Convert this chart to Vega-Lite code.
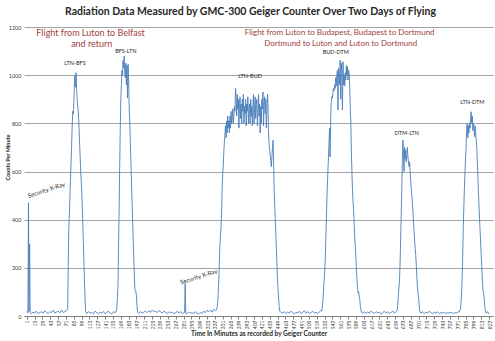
{
  "$schema": "https://vega.github.io/schema/vega-lite/v6.json",
  "width": 469,
  "height": 289,
  "autosize": {"type": "none"},
  "padding": {"left": 24, "top": 27, "right": 2, "bottom": 25},
  "background": "white",
  "config": {"view": {"stroke": null}, "font": "Lato"},
  "title": {
    "text": "Radiation Data Measured by GMC-300 Geiger Counter Over Two Days of Flying",
    "font": "Lato", "fontSize": 10.5, "fontWeight": "bold", "color": "#262626",
    "anchor": "middle", "offset": 8, "dx": -8
  },
  "datasets": {
    "series": [
      {"t":1,"c":20},{"t":2,"c":15},{"t":3,"c":12},{"t":4,"c":470},{"t":5,"c":18},{"t":6,"c":300},{"t":7,"c":14},{"t":9,"c":10},{"t":12,"c":16},{"t":15,"c":12},{"t":18,"c":20},{"t":21,"c":10},{"t":24,"c":14},{"t":27,"c":18},{"t":30,"c":12},{"t":33,"c":22},{"t":36,"c":15},{"t":39,"c":10},{"t":42,"c":18},{"t":45,"c":14},{"t":48,"c":24},{"t":51,"c":12},{"t":54,"c":16},{"t":57,"c":20},{"t":60,"c":13},{"t":63,"c":25},{"t":66,"c":15},{"t":69,"c":18},{"t":72,"c":22},{"t":74,"c":30},
      {"t":75,"c":200},{"t":76,"c":360},{"t":77,"c":420},{"t":78,"c":490},{"t":79,"c":560},{"t":80,"c":630},{"t":81,"c":700},{"t":82,"c":780},{"t":83,"c":850},{"t":84,"c":840},{"t":85,"c":880},{"t":86,"c":960},{"t":87,"c":1000},{"t":88,"c":950},{"t":89,"c":1010},{"t":90,"c":940},{"t":91,"c":900},{"t":92,"c":870},{"t":93,"c":850},{"t":94,"c":800},{"t":95,"c":740},{"t":96,"c":680},{"t":97,"c":620},{"t":98,"c":570},{"t":99,"c":530},{"t":100,"c":460},{"t":101,"c":390},{"t":102,"c":310},{"t":103,"c":230},{"t":104,"c":150},{"t":105,"c":80},{"t":106,"c":20},
      {"t":108,"c":10},{"t":111,"c":18},{"t":114,"c":12},{"t":117,"c":15},{"t":120,"c":8},{"t":123,"c":20},{"t":126,"c":14},{"t":129,"c":10},{"t":132,"c":16},{"t":135,"c":12},{"t":138,"c":19},{"t":141,"c":9},{"t":144,"c":15},{"t":147,"c":20},{"t":150,"c":12},{"t":153,"c":8},{"t":156,"c":18},{"t":159,"c":14},{"t":161,"c":20},
      {"t":162,"c":40},{"t":163,"c":80},{"t":164,"c":130},{"t":165,"c":300},{"t":166,"c":450},{"t":167,"c":620},{"t":168,"c":780},{"t":169,"c":900},{"t":170,"c":960},{"t":171,"c":1020},{"t":172,"c":1000},{"t":173,"c":1060},{"t":174,"c":1030},{"t":175,"c":1080},{"t":176,"c":1010},{"t":177,"c":990},{"t":178,"c":1050},{"t":179,"c":960},{"t":180,"c":1040},{"t":181,"c":905},{"t":182,"c":1045},{"t":183,"c":980},{"t":184,"c":860},{"t":185,"c":800},{"t":186,"c":720},{"t":187,"c":640},{"t":188,"c":560},{"t":189,"c":480},{"t":190,"c":400},{"t":191,"c":330},{"t":192,"c":250},{"t":193,"c":180},{"t":194,"c":115},{"t":195,"c":105},{"t":196,"c":100},{"t":197,"c":80},{"t":198,"c":40},{"t":199,"c":15},
      {"t":201,"c":10},{"t":204,"c":18},{"t":207,"c":12},{"t":210,"c":16},{"t":213,"c":20},{"t":216,"c":14},{"t":219,"c":22},{"t":222,"c":15},{"t":225,"c":25},{"t":228,"c":18},{"t":231,"c":20},{"t":234,"c":14},{"t":237,"c":22},{"t":240,"c":18},{"t":243,"c":12},{"t":246,"c":20},{"t":249,"c":15},{"t":252,"c":10},{"t":255,"c":18},{"t":258,"c":12},{"t":261,"c":16},{"t":264,"c":10},{"t":267,"c":14},{"t":270,"c":20},{"t":273,"c":12},{"t":276,"c":18},{"t":279,"c":10},{"t":282,"c":14},{"t":283,"c":15},{"t":284,"c":135},{"t":285,"c":12},{"t":287,"c":10},{"t":290,"c":16},{"t":293,"c":12},{"t":296,"c":14},{"t":299,"c":10},{"t":302,"c":18},{"t":305,"c":12},{"t":308,"c":8},{"t":311,"c":15},{"t":314,"c":10},{"t":317,"c":20},{"t":320,"c":14},{"t":323,"c":24},{"t":326,"c":18},{"t":329,"c":25},{"t":332,"c":16},{"t":335,"c":28},{"t":338,"c":22},
      {"t":340,"c":25},{"t":341,"c":35},{"t":342,"c":55},{"t":343,"c":90},{"t":344,"c":150},{"t":345,"c":220},{"t":346,"c":290},{"t":347,"c":330},{"t":348,"c":370},{"t":349,"c":420},{"t":350,"c":520},{"t":351,"c":590},{"t":352,"c":620},{"t":353,"c":680},{"t":354,"c":720},{"t":355,"c":750},{"t":356,"c":790},{"t":357,"c":740},{"t":358,"c":810},{"t":359,"c":760},{"t":360,"c":830},{"t":361,"c":780},{"t":362,"c":810},{"t":363,"c":760},{"t":364,"c":830},{"t":365,"c":780},{"t":366,"c":850},{"t":367,"c":800},{"t":368,"c":820},{"t":369,"c":860},{"t":370,"c":800},{"t":371,"c":830},{"t":372,"c":870},{"t":373,"c":850},{"t":374,"c":945},{"t":375,"c":900},{"t":376,"c":830},{"t":377,"c":920},{"t":378,"c":860},{"t":379,"c":900},{"t":380,"c":780},{"t":381,"c":870},{"t":382,"c":910},{"t":383,"c":820},{"t":384,"c":880},{"t":385,"c":800},{"t":386,"c":900},{"t":387,"c":850},{"t":388,"c":920},{"t":389,"c":800},{"t":390,"c":870},{"t":391,"c":840},{"t":392,"c":900},{"t":393,"c":790},{"t":394,"c":880},{"t":395,"c":850},{"t":396,"c":910},{"t":397,"c":800},{"t":398,"c":860},{"t":399,"c":880},{"t":400,"c":800},{"t":401,"c":900},{"t":402,"c":830},{"t":403,"c":870},{"t":404,"c":790},{"t":405,"c":880},{"t":406,"c":920},{"t":407,"c":800},{"t":408,"c":860},{"t":409,"c":910},{"t":410,"c":820},{"t":411,"c":880},{"t":412,"c":900},{"t":413,"c":790},{"t":414,"c":850},{"t":415,"c":920},{"t":416,"c":830},{"t":417,"c":880},{"t":418,"c":760},{"t":419,"c":870},{"t":420,"c":800},{"t":421,"c":900},{"t":422,"c":860},{"t":423,"c":930},{"t":424,"c":790},{"t":425,"c":880},{"t":426,"c":910},{"t":427,"c":840},{"t":428,"c":900},{"t":429,"c":780},{"t":430,"c":850},{"t":431,"c":920},{"t":432,"c":880},{"t":433,"c":760},{"t":434,"c":710},{"t":435,"c":690},{"t":436,"c":670},{"t":437,"c":640},{"t":438,"c":620},{"t":439,"c":660},{"t":440,"c":700},{"t":441,"c":730},{"t":442,"c":640},{"t":443,"c":520},{"t":444,"c":460},{"t":445,"c":400},{"t":446,"c":340},{"t":447,"c":280},{"t":448,"c":210},{"t":449,"c":150},{"t":450,"c":110},{"t":451,"c":70},{"t":452,"c":40},{"t":453,"c":20},{"t":455,"c":15},
      {"t":458,"c":12},{"t":461,"c":18},{"t":464,"c":10},{"t":467,"c":16},{"t":470,"c":12},{"t":473,"c":20},{"t":476,"c":14},{"t":479,"c":8},{"t":482,"c":16},{"t":485,"c":12},{"t":488,"c":20},{"t":491,"c":10},{"t":494,"c":15},{"t":497,"c":22},{"t":500,"c":12},{"t":503,"c":18},{"t":506,"c":10},{"t":509,"c":14},{"t":512,"c":20},{"t":515,"c":12},{"t":518,"c":16},{"t":521,"c":10},{"t":524,"c":18},{"t":526,"c":22},{"t":528,"c":20},
      {"t":529,"c":40},{"t":530,"c":60},{"t":531,"c":100},{"t":532,"c":140},{"t":533,"c":170},{"t":534,"c":220},{"t":535,"c":300},{"t":536,"c":380},{"t":537,"c":460},{"t":538,"c":540},{"t":539,"c":600},{"t":540,"c":660},{"t":541,"c":720},{"t":542,"c":780},{"t":543,"c":660},{"t":544,"c":820},{"t":545,"c":890},{"t":546,"c":910},{"t":547,"c":905},{"t":548,"c":930},{"t":549,"c":945},{"t":550,"c":935},{"t":551,"c":960},{"t":552,"c":945},{"t":553,"c":990},{"t":554,"c":955},{"t":555,"c":1000},{"t":556,"c":1020},{"t":557,"c":855},{"t":558,"c":1030},{"t":559,"c":1000},{"t":560,"c":960},{"t":561,"c":1063},{"t":562,"c":900},{"t":563,"c":1050},{"t":564,"c":1010},{"t":565,"c":855},{"t":566,"c":1056},{"t":567,"c":960},{"t":568,"c":1000},{"t":569,"c":955},{"t":570,"c":1010},{"t":571,"c":980},{"t":572,"c":1040},{"t":573,"c":1000},{"t":574,"c":1035},{"t":575,"c":980},{"t":576,"c":1020},{"t":577,"c":1007},{"t":578,"c":950},{"t":579,"c":860},{"t":580,"c":800},{"t":581,"c":680},{"t":582,"c":590},{"t":583,"c":520},{"t":584,"c":470},{"t":585,"c":440},{"t":586,"c":380},{"t":587,"c":320},{"t":588,"c":290},{"t":589,"c":240},{"t":590,"c":190},{"t":591,"c":150},{"t":592,"c":110},{"t":593,"c":95},{"t":594,"c":100},{"t":595,"c":80},{"t":596,"c":70},{"t":597,"c":40},{"t":599,"c":15},{"t":601,"c":12},
      {"t":604,"c":18},{"t":607,"c":10},{"t":610,"c":16},{"t":613,"c":12},{"t":616,"c":20},{"t":619,"c":14},{"t":622,"c":10},{"t":625,"c":18},{"t":628,"c":12},{"t":631,"c":16},{"t":634,"c":8},{"t":637,"c":14},{"t":640,"c":20},{"t":643,"c":12},{"t":646,"c":18},{"t":649,"c":10},{"t":652,"c":15},{"t":655,"c":20},{"t":658,"c":12},{"t":661,"c":18},{"t":663,"c":25},
      {"t":664,"c":50},{"t":665,"c":90},{"t":666,"c":120},{"t":667,"c":150},{"t":668,"c":220},{"t":669,"c":320},{"t":670,"c":420},{"t":671,"c":520},{"t":672,"c":640},{"t":673,"c":730},{"t":674,"c":690},{"t":675,"c":600},{"t":676,"c":700},{"t":677,"c":650},{"t":678,"c":690},{"t":679,"c":640},{"t":680,"c":670},{"t":681,"c":700},{"t":682,"c":660},{"t":683,"c":640},{"t":684,"c":620},{"t":685,"c":640},{"t":686,"c":600},{"t":687,"c":560},{"t":688,"c":530},{"t":689,"c":500},{"t":690,"c":470},{"t":691,"c":430},{"t":692,"c":390},{"t":693,"c":350},{"t":694,"c":310},{"t":695,"c":280},{"t":696,"c":250},{"t":697,"c":210},{"t":698,"c":160},{"t":699,"c":120},{"t":700,"c":95},{"t":701,"c":80},{"t":702,"c":50},{"t":703,"c":20},{"t":705,"c":12},
      {"t":708,"c":18},{"t":711,"c":10},{"t":714,"c":16},{"t":717,"c":12},{"t":720,"c":20},{"t":723,"c":14},{"t":726,"c":10},{"t":729,"c":16},{"t":732,"c":12},{"t":735,"c":18},{"t":738,"c":10},{"t":741,"c":14},{"t":744,"c":12},{"t":747,"c":16},{"t":750,"c":10},{"t":753,"c":14},{"t":756,"c":12},{"t":759,"c":16},{"t":762,"c":10},{"t":765,"c":14},{"t":768,"c":12},{"t":771,"c":16},{"t":774,"c":18},{"t":776,"c":30},
      {"t":777,"c":60},{"t":778,"c":100},{"t":779,"c":170},{"t":780,"c":260},{"t":781,"c":380},{"t":782,"c":460},{"t":783,"c":540},{"t":784,"c":600},{"t":785,"c":660},{"t":786,"c":700},{"t":787,"c":780},{"t":788,"c":800},{"t":789,"c":740},{"t":790,"c":790},{"t":791,"c":760},{"t":792,"c":800},{"t":793,"c":780},{"t":794,"c":820},{"t":795,"c":848},{"t":796,"c":800},{"t":797,"c":830},{"t":798,"c":770},{"t":799,"c":800},{"t":800,"c":780},{"t":801,"c":745},{"t":802,"c":790},{"t":803,"c":760},{"t":804,"c":730},{"t":805,"c":700},{"t":806,"c":640},{"t":807,"c":580},{"t":808,"c":510},{"t":809,"c":460},{"t":810,"c":400},{"t":811,"c":350},{"t":812,"c":300},{"t":813,"c":250},{"t":814,"c":200},{"t":815,"c":150},{"t":816,"c":110},{"t":817,"c":95},{"t":818,"c":80},{"t":819,"c":50},{"t":820,"c":25},{"t":822,"c":12},{"t":824,"c":18},{"t":826,"c":10},{"t":827,"c":14}
    ],
    "divider": [{"t": 233}],
    "notes": [
      {"t":115,"c":1174,"label":"Flight  from Luton to Belfast","kind":"red1"},
      {"t":117,"c":1130,"label":"and return","kind":"red1"},
      {"t":560,"c":1174,"label":"Flight from Luton to Budapest, Budapest to Dortmund","kind":"red2"},
      {"t":562,"c":1130,"label":"Dortmund to Luton and Luton to Dortmund","kind":"red2"},
      {"t":87,"c":1052,"label":"LTN-BFS","kind":"peak"},
      {"t":178,"c":1100,"label":"BFS-LTN","kind":"peak"},
      {"t":400,"c":997,"label":"LTN-BUD","kind":"peak"},
      {"t":553,"c":1096,"label":"BUD-DTM","kind":"peak"},
      {"t":680,"c":760,"label":"DTM-LTN","kind":"peak"},
      {"t":797,"c":890,"label":"LTN-DTM","kind":"peak"},
      {"t":36,"c":523,"label":"Security X-Ray","kind":"xray"},
      {"t":308,"c":163,"label":"Security X-Ray","kind":"xray"}
    ]
  },
  "encoding": {
    "x": {
      "field": "t", "type": "quantitative",
      "scale": {"domain": [-4, 834], "nice": false, "zero": false},
      "axis": {
        "values": [1,15,29,43,57,71,85,99,113,127,141,155,169,183,197,211,225,239,253,267,281,295,309,323,337,351,365,379,393,407,421,435,449,463,477,491,505,519,533,547,561,575,589,603,617,631,645,659,673,687,701,715,729,743,757,771,785,799,813,827],
        "format": "d",
        "labelAngle": -90, "labelAlign": "right", "labelBaseline": "middle",
        "labelFontSize": 5, "labelFont": "Lato", "labelColor": "#404040", "labelPadding": 1,
        "labelOverlap": false, "labelFlush": false,
        "grid": false, "domainColor": "#7f7f7f", "tickColor": "#7f7f7f", "tickSize": 3,
        "title": "Time In Minutes as recorded by Geiger Counter",
        "titleFont": "Lato", "titleFontSize": 6.5, "titleFontWeight": "bold", "titleColor": "#262626", "titlePadding": 2
      }
    },
    "y": {
      "field": "c", "type": "quantitative",
      "scale": {"domain": [0, 1200], "nice": false},
      "axis": {
        "values": [0,200,400,600,800,1000,1200],
        "format": "d",
        "grid": true, "gridColor": "#8c8c8c", "gridWidth": 0.8,
        "domain": false, "ticks": false,
        "labelFontSize": 5.5, "labelFont": "Lato", "labelColor": "#404040", "labelPadding": 3,
        "title": "Counts Per Minute",
        "titleFont": "Lato", "titleFontSize": 5.5, "titleFontWeight": "bold", "titleColor": "#262626",
        "titleX": -14, "titleY": 130, "titleAngle": -90, "titleAlign": "center", "titleBaseline": "bottom"
      }
    }
  },
  "layer": [
    {
      "data": {"name": "divider"},
      "mark": {"type": "rule", "color": "#1a1a1a", "strokeWidth": 1},
      "encoding": {"y": {"datum": 0}, "y2": {"datum": 1200}}
    },
    {
      "data": {"name": "series"},
      "mark": {"type": "line", "color": "#4a7ebb", "strokeWidth": 0.9},
      "encoding": {}
    },
    {
      "data": {"name": "notes"},
      "transform": [{"filter": "datum.kind === 'red1'"}],
      "mark": {"type": "text", "font": "Lato", "fontSize": 9, "color": "#a0403e"},
      "encoding": {"text": {"field": "label"}}
    },
    {
      "data": {"name": "notes"},
      "transform": [{"filter": "datum.kind === 'red2'"}],
      "mark": {"type": "text", "font": "Lato", "fontSize": 8, "color": "#a0403e"},
      "encoding": {"text": {"field": "label"}}
    },
    {
      "data": {"name": "notes"},
      "transform": [{"filter": "datum.kind === 'peak'"}],
      "mark": {"type": "text", "font": "Lato", "fontSize": 5.5, "color": "#262626"},
      "encoding": {"text": {"field": "label"}}
    },
    {
      "data": {"name": "notes"},
      "transform": [{"filter": "datum.kind === 'xray'"}],
      "mark": {"type": "text", "font": "Lato", "fontSize": 6, "color": "#262626", "angle": -18},
      "encoding": {"text": {"field": "label"}}
    }
  ]
}
